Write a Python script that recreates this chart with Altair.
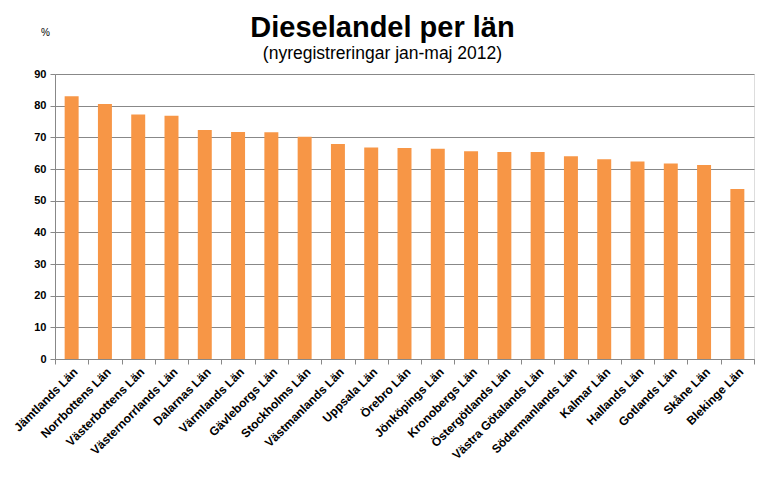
import altair as alt
import pandas as pd

lan = ["Jämtlands Län", "Norrbottens Län", "Västerbottens Län", "Västernorrlands Län",
       "Dalarnas Län", "Värmlands Län", "Gävleborgs Län", "Stockholms Län",
       "Västmanlands Län", "Uppsala Län", "Örebro Län", "Jönköpings Län",
       "Kronobergs Län", "Östergötlands Län", "Västra Götalands Län",
       "Södermanlands Län", "Kalmar Län", "Hallands Län", "Gotlands Län",
       "Skåne Län", "Blekinge Län"]
andel = [83.0, 80.5, 77.2, 76.8, 72.3, 71.7, 71.6, 70.2, 67.9, 66.8, 66.6, 66.4,
         65.6, 65.4, 65.4, 64.0, 63.1, 62.4, 61.7, 61.3, 53.7]
y_ticks = [0, 10, 20, 30, 40, 50, 60, 70, 80, 90]

df = pd.DataFrame({"lan": lan, "andel": andel})

chart = alt.Chart(df).mark_bar(
    color="#F79646", width=alt.RelativeBandSize(0.42)
).encode(
    x=alt.X("lan:N", sort=lan, title=None,
            scale=alt.Scale(paddingInner=0, paddingOuter=0),
            axis=alt.Axis(labelAngle=-45, labelFont="Liberation Sans", labelFontSize=12,
                          labelFontWeight="bold", labelColor="#000000",
                          domainColor="#888888", tickColor="#888888", tickSize=5,
                          tickBand="extent", labelPadding=2, grid=False)),
    y=alt.Y("andel:Q", title="%",
            scale=alt.Scale(domain=[0, 90], nice=False),
            axis=alt.Axis(values=y_ticks, labelFont="Liberation Sans", labelFontSize=11,
                          labelFontWeight="bold", labelColor="#000000",
                          domainColor="#888888", tickColor="#888888", tickSize=5,
                          gridColor="#888888", gridWidth=1, labelPadding=4,
                          titleAngle=0, titleX=-10, titleY=-37, titleFont="Liberation Sans",
                          titleFontSize=10, titleFontWeight="normal", titleColor="#000000",
                          titleAlign="center")),
).properties(
    width=699, height=285,
    autosize=alt.AutoSizeParams(type="none"),
    padding={"left": 47, "top": 66, "right": 4, "bottom": 132},
    title=alt.TitleParams(
        "Dieselandel per län",
        subtitle="(nyregistreringar jan-maj 2012)",
        font="Liberation Sans", fontSize=29, fontWeight="bold", color="#000000",
        subtitleFont="Liberation Sans", subtitleFontSize=17.5, subtitleColor="#000000",
        anchor="middle", dx=-22, dy=47, offset=12, subtitlePadding=2),
).configure_view(stroke=None).configure(background="white")

chart.save("out.html", embed_options={"renderer": "svg", "actions": False})
